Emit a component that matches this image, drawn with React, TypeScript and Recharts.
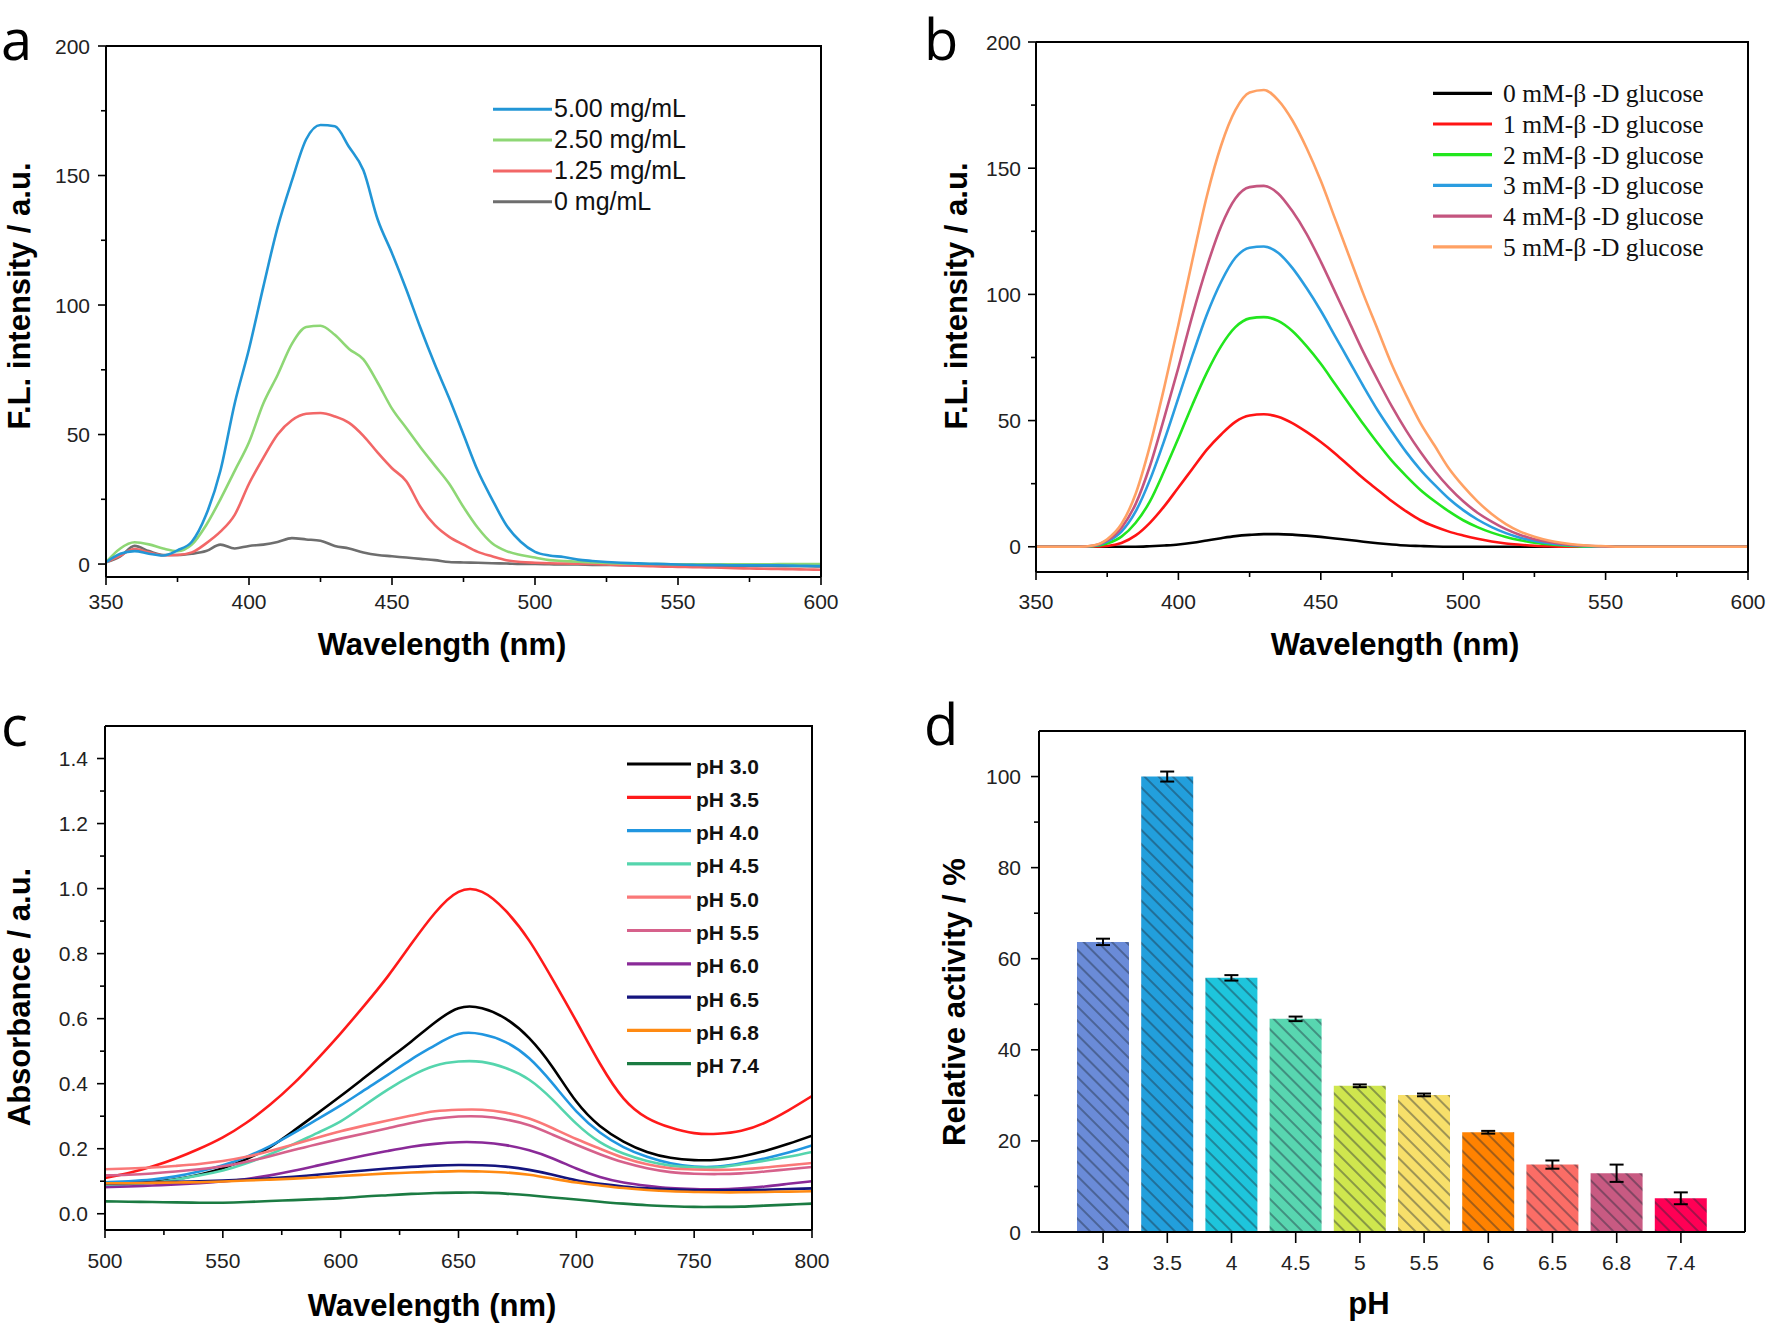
import React from "react";
import { LineChart, Line, BarChart, Bar, Cell, ErrorBar, XAxis, YAxis } from "recharts";

// ---------- panel a : fluorescence vs. nanozyme concentration ----------
const wlAB = [
  350, 355, 360, 365, 370, 375, 380, 385, 390, 395, 400, 405, 410, 415, 420, 425, 430,
  435, 440, 445, 450, 455, 460, 465, 470, 475, 480, 485, 490, 495, 500, 505, 510, 515,
  520, 525, 530, 535, 540, 545, 550, 555, 560, 565, 570, 575, 580, 585, 590, 595, 600,
];
const a500 = [
  0.7, 4, 5, 4, 3.3, 5.3, 8.6, 19, 36, 62, 83, 107, 130, 148, 164, 169.5, 169, 161, 152,
  133, 120, 106, 91, 77, 64, 50, 36, 25, 15, 8.6, 4.7, 3.3, 2.7, 1.7, 1.2, 0.8, 0.5, 0.3,
  0.1, 0, -0.2, -0.3, -0.4, -0.4, -0.5, -0.5, -0.5, -0.5, -0.6, -0.7, -0.8,
];
const a250 = [
  0.7, 6, 8.4, 7.6, 6, 5, 7.5, 15, 25, 36, 47, 62, 73, 85, 91.5, 92, 88.5, 83, 79, 70,
  60, 52.5, 45, 38, 31, 22, 14, 8, 5, 3.5, 2.5, 1.5, 1.2, 0.9, 0.6, 0.4, 0.2, 0.1, 0, 0,
  -0.1, -0.1, -0.1, -0.1, -0.1, -0.1, -0.1, 0, 0, 0, 0,
];
const a125 = [
  0.7, 3.3, 5.8, 4.5, 3.4, 3.5, 4.5, 8, 12.5, 19, 31, 41, 50, 55.5, 58, 58.3, 57, 54.5,
  49.5, 43, 37, 32, 22, 15, 10.5, 7.5, 4.7, 3, 1.5, 0.8, 0.5, 0.3, 0.2, 0.1, 0, -0.2,
  -0.4, -0.6, -0.8, -1, -1.1, -1.2, -1.3, -1.4, -1.6, -1.7, -1.8, -1.9, -2, -2.1, -2.2,
];
const a000 = [
  0.7, 3, 7, 5, 3.5, 3.5, 4, 5, 7.5, 6, 7, 7.5, 8.5, 10, 9.5, 9, 7, 6, 4.5, 3.5, 3, 2.5,
  2, 1.5, 0.8, 0.6, 0.5, 0.3, 0.2, 0, 0, -0.1, -0.2, -0.2, -0.3, -0.3, -0.4, -0.4, -0.5,
  -0.5, -0.5, -0.6, -0.6, -0.6, -0.7, -0.7, -0.7, -0.8, -0.8, -0.8, -0.9,
];

// ---------- panel b : fluorescence vs. glucose ----------
const b5 = [
  0, 0, 0, 0, 0.5, 3, 9, 21, 40, 63, 88, 114, 139, 159, 173, 180, 181, 177, 169, 158, 145,
  130, 115, 100, 86, 72, 60, 49, 40, 31, 24, 18, 13, 9, 6, 4, 2.5, 1.5, 0.8, 0.4, 0.2, 0,
  0, 0, 0, 0, 0, 0, 0, 0, 0,
];
const b4 = [
  0, 0, 0, 0, 0.4, 2.5, 7.5, 17, 32, 51, 71, 92, 111, 127, 138, 142.5, 143, 140, 133, 124,
  113, 101, 89, 77, 66, 55.5, 46, 37.5, 30, 23.5, 18, 13.5, 10, 7, 4.7, 3, 1.9, 1.1, 0.6,
  0.3, 0.1, 0, 0, 0, 0, 0, 0, 0, 0, 0, 0,
];
const b3 = [
  0, 0, 0, 0, 0.3, 2, 6, 14, 26.5, 42, 59, 76, 92, 105, 114.5, 118.5, 119, 116.5, 110.5,
  102.5, 93.5, 83.5, 73.5, 63.5, 54, 45.5, 37.5, 30.5, 24.5, 19, 14.5, 10.8, 7.8, 5.4,
  3.6, 2.3, 1.4, 0.8, 0.4, 0.2, 0, 0, 0, 0, 0, 0, 0, 0, 0, 0, 0,
];
const b2 = [
  0, 0, 0, 0, 0.2, 1.3, 4, 9.5, 18, 30, 43, 56.5, 69, 79.5, 87, 90.5, 91, 89.5, 85.5, 79.5,
  72.5, 64.5, 56.5, 48.5, 41, 34, 28, 22.5, 18, 14, 10.5, 7.8, 5.6, 3.9, 2.6, 1.6, 1, 0.5,
  0.2, 0, 0, 0, 0, 0, 0, 0, 0, 0, 0, 0, 0,
];
const b1 = [
  0, 0, 0, 0, 0, 0.3, 1.5, 4.5, 9.5, 16, 23.5, 31, 38.5, 44.5, 49.5, 52, 52.5, 51.5, 49,
  45.5, 41.5, 37, 32, 27, 22.5, 18, 14, 10.5, 8, 6, 4.5, 3.2, 2.1, 1.3, 0.8, 0.4, 0.2, 0,
  0, 0, 0, 0, 0, 0, 0, 0, 0, 0, 0, 0, 0,
];
const b0 = [
  0, 0, 0, 0, 0, 0, 0, 0, 0.2, 0.5, 0.9, 1.6, 2.5, 3.4, 4.2, 4.7, 5, 5, 4.8, 4.4, 3.9, 3.3,
  2.7, 2, 1.4, 0.9, 0.5, 0.3, 0.1, 0, 0, 0, 0, 0, 0, 0, 0, 0, 0, 0, 0, 0, 0, 0, 0, 0, 0, 0,
  0, 0, 0,
];

// ---------- panel c : absorbance vs. pH ----------
const wlC = [
  500, 510, 520, 530, 540, 550, 560, 570, 580, 590, 600, 610, 620, 630, 640, 650, 660, 670,
  680, 690, 700, 710, 720, 730, 740, 750, 760, 770, 780, 790, 800,
];
const ph30 = [
  0.09, 0.093, 0.098, 0.106, 0.12, 0.14, 0.168, 0.205, 0.255, 0.308, 0.362, 0.418, 0.474,
  0.53, 0.588, 0.632, 0.632, 0.6, 0.54, 0.45, 0.345, 0.27, 0.222, 0.19, 0.172, 0.165,
  0.166, 0.176, 0.193, 0.215, 0.24,
];
const ph35 = [
  0.11, 0.125, 0.145, 0.17, 0.2, 0.235, 0.28, 0.335, 0.4, 0.475, 0.555, 0.64, 0.73, 0.83,
  0.925, 0.99, 0.99, 0.932, 0.84, 0.72, 0.592, 0.462, 0.355, 0.295, 0.265, 0.248, 0.246,
  0.255, 0.28, 0.318, 0.362,
];
const ph40 = [
  0.097, 0.1, 0.105, 0.115, 0.13, 0.149, 0.175, 0.208, 0.248, 0.29, 0.333, 0.38, 0.427,
  0.475, 0.518, 0.553, 0.552, 0.528, 0.478, 0.4, 0.315, 0.25, 0.205, 0.175, 0.155, 0.145,
  0.145, 0.155, 0.17, 0.188, 0.21,
];
const ph45 = [
  0.088, 0.09, 0.095, 0.105, 0.118, 0.133, 0.155, 0.183, 0.214, 0.248, 0.284, 0.333, 0.382,
  0.424, 0.455, 0.468, 0.467, 0.448, 0.412, 0.35, 0.277, 0.22, 0.185, 0.162, 0.148, 0.143,
  0.143, 0.152, 0.163, 0.175, 0.19,
];
const ph50 = [
  0.137, 0.139, 0.142, 0.147, 0.153, 0.162, 0.175, 0.193, 0.213, 0.234, 0.254, 0.271, 0.287,
  0.302, 0.315, 0.32, 0.32, 0.311, 0.293, 0.263, 0.23, 0.2, 0.172, 0.152, 0.14, 0.136,
  0.135, 0.137, 0.142, 0.149, 0.156,
];
const ph55 = [
  0.118, 0.12, 0.124, 0.13, 0.137, 0.146, 0.16, 0.177, 0.196, 0.214, 0.231, 0.247, 0.263,
  0.279, 0.292, 0.299, 0.299, 0.29, 0.272, 0.243, 0.212, 0.183, 0.158, 0.14, 0.128, 0.123,
  0.122, 0.124, 0.13, 0.137, 0.144,
];
const ph60 = [
  0.082, 0.084, 0.087, 0.09, 0.094, 0.099, 0.107, 0.118, 0.132, 0.148, 0.164, 0.179, 0.193,
  0.206, 0.215, 0.22, 0.219, 0.211, 0.195, 0.17, 0.139, 0.113, 0.096, 0.086, 0.079, 0.076,
  0.075, 0.078, 0.084, 0.092, 0.1,
];
const ph65 = [
  0.093, 0.094, 0.096, 0.098, 0.1, 0.102, 0.105, 0.109, 0.114, 0.12, 0.127, 0.133, 0.139,
  0.144, 0.148, 0.15, 0.149, 0.145, 0.135, 0.12, 0.103, 0.092, 0.084, 0.078, 0.075, 0.073,
  0.072, 0.073, 0.074, 0.076, 0.078,
];
const ph68 = [
  0.094, 0.094, 0.095, 0.096, 0.097, 0.099, 0.102, 0.105, 0.108, 0.112, 0.116, 0.12, 0.124,
  0.127, 0.129, 0.131, 0.13, 0.127, 0.12, 0.108, 0.096, 0.087, 0.079, 0.073, 0.069, 0.067,
  0.066, 0.066, 0.067, 0.068, 0.069,
];
const ph74 = [
  0.038, 0.037, 0.036, 0.035, 0.034, 0.034, 0.036, 0.039, 0.042, 0.045, 0.048, 0.053,
  0.057, 0.061, 0.064, 0.065, 0.065, 0.062, 0.057, 0.05, 0.044, 0.037, 0.031, 0.026, 0.023,
  0.021, 0.021, 0.022, 0.025, 0.028, 0.031,
];

// ---------- panel d : relative activity ----------
const phLabels = ["3", "3.5", "4", "4.5", "5", "5.5", "6", "6.5", "6.8", "7.4"];
const activity = [63.7, 100, 55.8, 46.8, 32.1, 30.1, 21.9, 14.8, 12.9, 7.4];
const activityErr = [0.7, 1.1, 0.6, 0.5, 0.3, 0.3, 0.3, 0.9, 1.9, 1.3];

// tick values
const ticksWlAB = [350, 375, 400, 425, 450, 475, 500, 525, 550, 575, 600];
const ticksA = [0, 25, 50, 75, 100, 125, 150, 175, 200];
const ticksWlC = [500, 525, 550, 575, 600, 625, 650, 675, 700, 725, 750, 775, 800];
const ticksC = [0, 0.1, 0.2, 0.3, 0.4, 0.5, 0.6, 0.7, 0.8, 0.9, 1.0, 1.1, 1.2, 1.3, 1.4];
const ticksD = [0, 10, 20, 30, 40, 50, 60, 70, 80, 90, 100];

const rowsA = wlAB.map((wl, i) => ({ wl, c5: a500[i], c25: a250[i], c125: a125[i], c0: a000[i] }));
const rowsB = wlAB.map((wl, i) => ({ wl, g0: b0[i], g1: b1[i], g2: b2[i], g3: b3[i], g4: b4[i], g5: b5[i] }));
const rowsC = wlC.map((wl, i) => ({
  wl, p30: ph30[i], p35: ph35[i], p40: ph40[i], p45: ph45[i], p50: ph50[i],
  p55: ph55[i], p60: ph60[i], p65: ph65[i], p68: ph68[i], p74: ph74[i],
}));
const rowsD = phLabels.map((ph, i) => ({ ph, act: activity[i], err: activityErr[i] }));

const seriesA = [
  { key: "c0", name: "0 mg/mL", color: "#6e6e6e" },
  { key: "c125", name: "1.25 mg/mL", color: "#f26767" },
  { key: "c25", name: "2.50 mg/mL", color: "#8ed775" },
  { key: "c5", name: "5.00 mg/mL", color: "#2296d6" },
];
const legendA = ["c5", "c25", "c125", "c0"];

const seriesB = [
  { key: "g0", name: "0 mM-β -D glucose", color: "#000000" },
  { key: "g1", name: "1 mM-β -D glucose", color: "#ff1414" },
  { key: "g2", name: "2 mM-β -D glucose", color: "#22e61e" },
  { key: "g3", name: "3 mM-β -D glucose", color: "#2a9de0" },
  { key: "g4", name: "4 mM-β -D glucose", color: "#c4557f" },
  { key: "g5", name: "5 mM-β -D glucose", color: "#ffa164" },
];

const seriesC = [
  { key: "p30", name: "pH 3.0", color: "#000000" },
  { key: "p35", name: "pH 3.5", color: "#ff1a1a" },
  { key: "p40", name: "pH 4.0", color: "#2196e0" },
  { key: "p45", name: "pH 4.5", color: "#55d5ad" },
  { key: "p50", name: "pH 5.0", color: "#fa7878" },
  { key: "p55", name: "pH 5.5", color: "#d6618b" },
  { key: "p60", name: "pH 6.0", color: "#8a2a98" },
  { key: "p65", name: "pH 6.5", color: "#15157e" },
  { key: "p68", name: "pH 6.8", color: "#ff8a12" },
  { key: "p74", name: "pH 7.4", color: "#1b7b42" },
];

const barColors = [
  "#6a8bd8", "#229fdc", "#1ec5dc", "#58d6b0", "#cfe64e",
  "#f7df6a", "#ff8200", "#fb6d66", "#c85a82", "#ff0055",
];

// plot boxes: chart position, y-axis width, top margin, plot size
const boxA = { left: 0, top: 0, yw: 106, mt: 46, pw: 715, ph: 531 };
const boxB = { left: 936, top: 0, yw: 100, mt: 42, pw: 712, ph: 530 };
const boxC = { left: 5, top: 663, yw: 100, mt: 63, pw: 707, ph: 504 };
const boxD = { left: 939, top: 663, yw: 100, mt: 68, pw: 706, ph: 501 };
const RIGHT = 20;
const XH = 80;

const SANS = "'Liberation Sans', Arial, sans-serif";
const SERIF = "'Liberation Serif', 'Times New Roman', serif";
const AXIS = { stroke: "#000", strokeWidth: 2 };

const leftTick = (isMajor: (v: number) => boolean, fmt: (v: number) => string, gap: number) =>
  (p: any) => {
    const v = Number(p.payload.value);
    const major = isMajor(v);
    return (
      <g>
        <line x1={p.x} x2={p.x - (major ? 8 : 5)} y1={p.y} y2={p.y} stroke="#000" strokeWidth={1.6} />
        {major && (
          <text x={p.x - gap} y={p.y} dy={7.5} textAnchor="end" fontSize={21} fontFamily={SANS} fill="#222">
            {fmt(v)}
          </text>
        )}
      </g>
    );
  };

const bottomTick = (isMajor: (v: any) => boolean, base: number, len = 8) =>
  (p: any) => {
    const v = p.payload.value;
    const major = isMajor(v);
    return (
      <g>
        <line x1={p.x} x2={p.x} y1={p.y} y2={p.y + (major ? len : 5)} stroke="#000" strokeWidth={1.6} />
        {major && (
          <text x={p.x} y={p.y + base} textAnchor="middle" fontSize={21} fontFamily={SANS} fill="#222">
            {String(v)}
          </text>
        )}
      </g>
    );
  };

const every50 = (v: number) => v % 50 === 0;
const size = (b: typeof boxA) => ({
  width: b.yw + b.pw + RIGHT,
  height: b.mt + b.ph + XH,
  margin: { top: b.mt, right: RIGHT, left: 0, bottom: 0 },
});

function PanelA() {
  return (
    <LineChart {...size(boxA)} data={rowsA}>
      <XAxis dataKey="wl" type="number" domain={[350, 600]} allowDataOverflow ticks={ticksWlAB} interval={0}
        tickSize={0} tickMargin={0} tickLine={false} axisLine={AXIS} height={XH} tick={bottomTick(every50, 32)} />
      <YAxis type="number" domain={[-5, 200]} allowDataOverflow ticks={ticksA} interval={0} tickSize={0}
        tickMargin={0} tickLine={false} axisLine={AXIS} width={boxA.yw} tick={leftTick(every50, (v) => String(v), 16)} />
      {seriesA.map((s) => (
        <Line key={s.key} dataKey={s.key} type="monotone" stroke={s.color} strokeWidth={2.6} dot={false}
          isAnimationActive={false} />
      ))}
    </LineChart>
  );
}

function PanelB() {
  return (
    <LineChart {...size(boxB)} data={rowsB}>
      <XAxis dataKey="wl" type="number" domain={[350, 600]} allowDataOverflow ticks={ticksWlAB} interval={0}
        tickSize={0} tickMargin={0} tickLine={false} axisLine={AXIS} height={XH} tick={bottomTick(every50, 37)} />
      <YAxis type="number" domain={[-10, 200]} allowDataOverflow ticks={ticksA} interval={0} tickSize={0}
        tickMargin={0} tickLine={false} axisLine={AXIS} width={boxB.yw} tick={leftTick(every50, (v) => String(v), 15)} />
      {seriesB.map((s) => (
        <Line key={s.key} dataKey={s.key} type="monotone" stroke={s.color} strokeWidth={2.6} dot={false}
          isAnimationActive={false} />
      ))}
    </LineChart>
  );
}

function PanelC() {
  return (
    <LineChart {...size(boxC)} data={rowsC}>
      <XAxis dataKey="wl" type="number" domain={[500, 800]} allowDataOverflow ticks={ticksWlC} interval={0}
        tickSize={0} tickMargin={0} tickLine={false} axisLine={AXIS} height={XH} tick={bottomTick(every50, 38)} />
      <YAxis type="number" domain={[-0.05, 1.5]} allowDataOverflow ticks={ticksC} interval={0} tickSize={0}
        tickMargin={0} tickLine={false} axisLine={AXIS} width={boxC.yw}
        tick={leftTick((v) => Math.round(v * 10) % 2 === 0, (v) => v.toFixed(1), 17)} />
      {seriesC.map((s) => (
        <Line key={s.key} dataKey={s.key} type="natural" stroke={s.color} strokeWidth={2.6} dot={false}
          isAnimationActive={false} />
      ))}
    </LineChart>
  );
}

function PanelD() {
  return (
    <BarChart {...size(boxD)} data={rowsD} barCategoryGap={0}>
      <defs>
        {barColors.map((c, i) => (
          <pattern key={i} id={`hatch${i}`} patternUnits="userSpaceOnUse" width={10} height={10}
            patternTransform="rotate(45)">
            <rect width={10} height={10} fill={c} />
            <line x1={0} y1={5} x2={10} y2={5} stroke="#1d2838" strokeOpacity={0.75} strokeWidth={1.1} />
          </pattern>
        ))}
      </defs>
      <XAxis dataKey="ph" padding={{ left: 32, right: 32 }} interval={0} tickSize={0} tickMargin={0}
        tickLine={false} axisLine={AXIS} height={XH} tick={bottomTick(() => true, 38, 11)} />
      <YAxis type="number" domain={[0, 110]} allowDataOverflow ticks={ticksD} interval={0} tickSize={0}
        tickMargin={0} tickLine={false} axisLine={AXIS} width={boxD.yw}
        tick={leftTick((v) => v % 20 === 0, (v) => String(v), 18)} />
      <Bar dataKey="act" barSize={52} isAnimationActive={false}>
        {rowsD.map((_, i) => (
          <Cell key={i} fill={`url(#hatch${i})`} />
        ))}
        <ErrorBar dataKey="err" width={7} strokeWidth={2} stroke="#000" direction="y" />
      </Bar>
    </BarChart>
  );
}

// top and right edges of each plot box
function Frame({ b }: { b: typeof boxA }) {
  const x0 = b.left + b.yw;
  const y0 = b.top + b.mt;
  const x1 = x0 + b.pw;
  const y1 = y0 + b.ph;
  return <polyline points={`${x0},${y0} ${x1},${y0} ${x1},${y1}`} fill="none" stroke="#000" strokeWidth={2} />;
}

function Overlay() {
  const byKey = (k: string) => seriesA.find((s) => s.key === k)!;
  return (
    <svg width={1770} height={1326} style={{ position: "absolute", left: 0, top: 0, pointerEvents: "none" }}>
      <Frame b={boxA} />
      <Frame b={boxB} />
      <Frame b={boxC} />
      <Frame b={boxD} />
      {/* panel letters */}
      <g fontFamily="'Open Sans', sans-serif" fontSize={56} fill="#000">
        <text x={1} y={60}>a</text>
        <text x={924} y={60}>b</text>
        <text x={1} y={746}>c</text>
        <text x={924} y={745}>d</text>
      </g>
      {/* axis titles */}
      <g fontFamily={SANS} fontWeight="bold" fontSize={31} fill="#000" textAnchor="middle">
        <text x={442} y={655}>Wavelength (nm)</text>
        <text x={1395} y={655}>Wavelength (nm)</text>
        <text x={432} y={1316}>Wavelength (nm)</text>
        <text x={1369} y={1314}>pH</text>
        <text transform="translate(30,296) rotate(-90)">F.L. intensity / a.u.</text>
        <text transform="translate(967,296) rotate(-90)">F.L. intensity / a.u.</text>
        <text transform="translate(30,997) rotate(-90)">Absorbance / a.u.</text>
        <text transform="translate(965,1002) rotate(-90)">Relative activity / %</text>
      </g>
      {/* legend a */}
      {legendA.map((k, i) => {
        const s = byKey(k);
        const y = 109.3 + 30.8 * i;
        return (
          <g key={k}>
            <line x1={493} x2={552} y1={y} y2={y} stroke={s.color} strokeWidth={3} />
            <text x={554} y={y + 8} fontFamily={SANS} fontSize={25} fill="#111">{s.name}</text>
          </g>
        );
      })}
      {/* legend b */}
      {seriesB.map((s, i) => {
        const y = 93.3 + 30.7 * i;
        return (
          <g key={s.key}>
            <line x1={1433} x2={1492} y1={y} y2={y} stroke={s.color} strokeWidth={3.2} />
            <text x={1503} y={y + 9} fontFamily={SERIF} fontSize={25.5} fill="#111">{s.name}</text>
          </g>
        );
      })}
      {/* legend c */}
      {seriesC.map((s, i) => {
        const y = 764 + 33.3 * i;
        return (
          <g key={s.key}>
            <line x1={627} x2={691} y1={y} y2={y} stroke={s.color} strokeWidth={3.2} />
            <text x={696} y={y + 9.5} fontFamily={SANS} fontWeight="bold" fontSize={21} fill="#111">{s.name}</text>
          </g>
        );
      })}
    </svg>
  );
}

export default function App() {
  return (
    <div style={{ position: "absolute", left: 0, top: 0, width: 1770, height: 1326, background: "#fff", overflow: "hidden" }}>
      <div style={{ position: "absolute", left: boxA.left, top: boxA.top }}><PanelA /></div>
      <div style={{ position: "absolute", left: boxB.left, top: boxB.top }}><PanelB /></div>
      <div style={{ position: "absolute", left: boxC.left, top: boxC.top }}><PanelC /></div>
      <div style={{ position: "absolute", left: boxD.left, top: boxD.top }}><PanelD /></div>
      <Overlay />
    </div>
  );
}
